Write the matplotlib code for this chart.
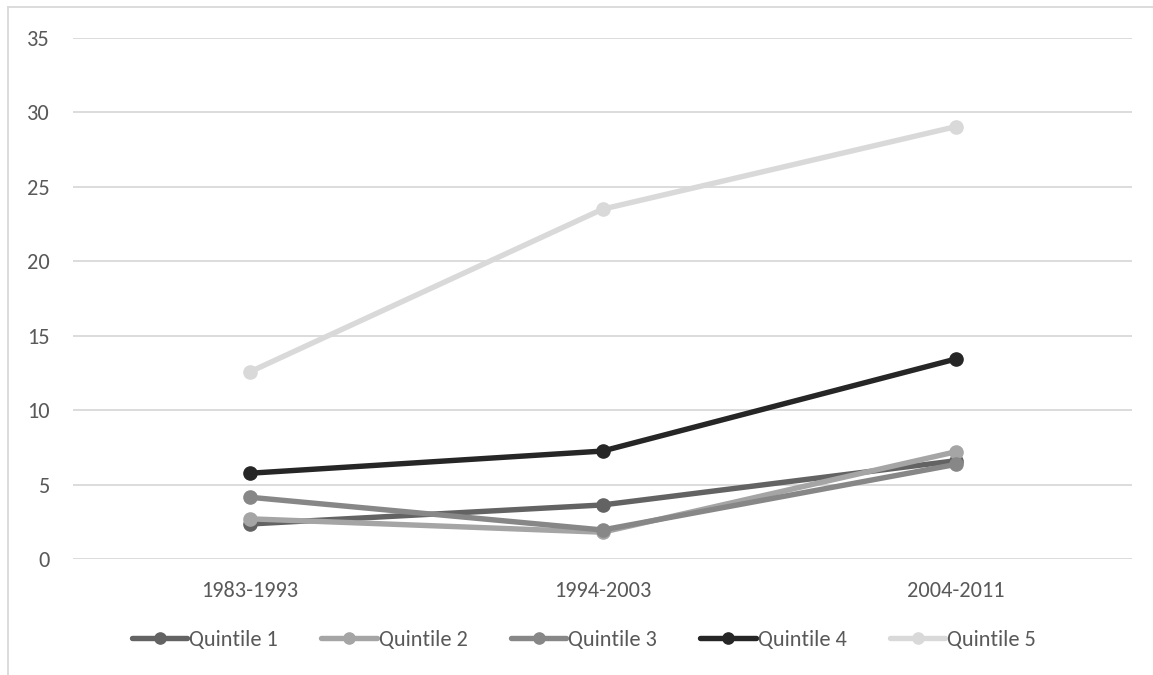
import matplotlib
matplotlib.use("Agg")
import matplotlib.pyplot as plt
from matplotlib.lines import Line2D

# 数据
periods = ["1983-1993", "1994-2003", "2004-2011"]
quintile_1 = [2.35, 3.63, 6.6]
quintile_2 = [2.7, 1.8, 7.2]
quintile_3 = [4.15, 1.95, 6.35]
quintile_4 = [5.76, 7.25, 13.43]
quintile_5 = [12.56, 23.5, 29.04]
series_names = ["Quintile 1", "Quintile 2", "Quintile 3", "Quintile 4", "Quintile 5"]
series_colors = ["#636363", "#a5a5a5", "#878787", "#262626", "#d9d9d9"]
y_ticks = [0, 5, 10, 15, 20, 25, 30, 35]

plt.rcParams['font.family'] = ['Carlito', 'Liberation Sans', 'DejaVu Sans']
text_color = "#595959"
grid_color = "#d9d9d9"

fig = plt.figure(figsize=(11.53, 6.75), dpi=100)
ax = fig.add_axes([73 / 1153, 1 - 559 / 675, (1132 - 73) / 1153, (559 - 38) / 675])

x = list(range(len(periods)))
all_series = [quintile_1, quintile_2, quintile_3, quintile_4, quintile_5]
for name, vals, col in zip(series_names, all_series, series_colors):
    ax.plot(x, vals, color=col, lw=3.9, marker="o", markersize=9.5,
            solid_capstyle="round", label=name, zorder=3)

ax.set_xlim(-0.5, 2.5)
ax.set_ylim(0, 35)
ax.set_yticks(y_ticks)
ax.set_xticks(x, periods)
ax.yaxis.grid(True, color=grid_color, lw=1.3)
ax.set_axisbelow(True)
for s in ax.spines.values():
    s.set_visible(False)
ax.tick_params(axis="both", length=0, labelsize=16, colors=text_color)
ax.tick_params(axis="y", pad=16.5)
ax.tick_params(axis="x", pad=16)

# 图例
leg = ax.legend(loc="center", bbox_to_anchor=((584 - 73) / 1059, (640 - 559) / -521), ncol=5,
                frameon=False, fontsize=16, handlelength=2.5, handletextpad=0.08,
                columnspacing=1.95, borderaxespad=0, markerscale=0.85)
for t in leg.get_texts():
    t.set_color(text_color)

# 外框
fig.add_artist(Line2D([8 / 1153, 1], [1 - 7 / 675, 1 - 7 / 675], color=grid_color, lw=1.3,
                      transform=fig.transFigure))
fig.add_artist(Line2D([8 / 1153, 8 / 1153], [0, 1 - 7 / 675], color=grid_color, lw=1.3,
                      transform=fig.transFigure))

fig.savefig("out.png", dpi=100)
